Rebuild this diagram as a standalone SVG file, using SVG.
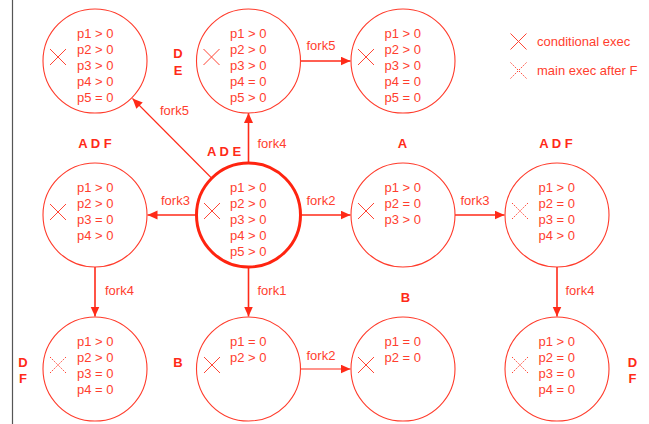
<svg xmlns="http://www.w3.org/2000/svg" width="649" height="424" viewBox="0 0 649 424">
  <style>
    .node { fill: #ffffff; stroke: #ff3b2b; stroke-width: 1.1; }
    .main { fill: #ffffff; stroke: #ff2410; stroke-width: 3; }
    .txt { font-family: "Liberation Sans", Arial, sans-serif; font-size: 13px; fill: #ff3e2e; }
    .lbl { font-family: "Liberation Sans", Arial, sans-serif; font-size: 13px; font-weight: bold; fill: #ff2a18; text-anchor: middle; }
    .xd { stroke-dasharray: 1.6 1.4; }
    .edge { stroke: #ff2a18; stroke-width: 1.6; fill: none; marker-end: url(#arrow); }
    .edge-thin { stroke: #ff2a18; stroke-width: 1.1; fill: none; marker-end: url(#arrow); }
  </style>
  <defs>
    <marker id="arrow" markerUnits="userSpaceOnUse" markerWidth="11" markerHeight="10" refX="10" refY="4.5" orient="auto">
      <path d="M0,0 L10,4.5 L0,9 z" fill="#ff2a18"/>
    </marker>
  </defs>

  <rect width="649" height="424" fill="#ffffff"/>
  <line x1="12.5" y1="0" x2="12.5" y2="424" stroke="#555555" stroke-width="1.2"/>

  <!-- connectors -->
  <g id="connectors">
    <line class="edge-thin" x1="211.5" y1="178" x2="132.5" y2="98.5"/>
    <text class="txt" x="160" y="115">fork5</text>
    <line class="edge" x1="248.5" y1="163" x2="248.5" y2="113"/>
    <text class="txt" x="257.5" y="148">fork4</text>
    <line class="edge" x1="300.5" y1="61" x2="350.5" y2="61"/>
    <text class="txt" x="306.5" y="50">fork5</text>
    <line class="edge" x1="196.5" y1="215" x2="147.5" y2="215"/>
    <text class="txt" x="161" y="205">fork3</text>
    <line class="edge" x1="300.5" y1="215" x2="350.5" y2="215"/>
    <text class="txt" x="306.5" y="205">fork2</text>
    <line class="edge" x1="455" y1="215" x2="504.5" y2="215"/>
    <text class="txt" x="460.5" y="205">fork3</text>
    <line class="edge" x1="95" y1="267" x2="95" y2="316.5"/>
    <text class="txt" x="105" y="295">fork4</text>
    <line class="edge" x1="248.5" y1="267" x2="248.5" y2="316.5"/>
    <text class="txt" x="257.5" y="295">fork1</text>
    <line class="edge-thin" x1="300.5" y1="369" x2="350.5" y2="369"/>
    <text class="txt" x="306.5" y="360">fork2</text>
    <line class="edge" x1="557" y1="267" x2="557" y2="316.5"/>
    <text class="txt" x="565.5" y="295">fork4</text>
  </g>

  <!-- states; each X mark is drawn with its own stroke colour -->
  <g id="state-top-left">
    <circle class="node" cx="95" cy="61" r="52"/>
    <path d="M50,49 L66,65 M50,65 L66,49" stroke="#ff4535" stroke-width="1" fill="none"/>
    <text class="txt" x="77" y="37.5">p1 &gt; 0</text>
    <text class="txt" x="77" y="53.5">p2 &gt; 0</text>
    <text class="txt" x="77" y="69.5">p3 &gt; 0</text>
    <text class="txt" x="77" y="85.5">p4 &gt; 0</text>
    <text class="txt" x="77" y="101.5">p5 = 0</text>
  </g>

  <g id="state-top-mid">
    <circle class="node" cx="248.5" cy="61" r="52"/>
    <path d="M203.5,49 L219.5,65 M203.5,65 L219.5,49" stroke="#ff4535" stroke-width="1" fill="none"/>
    <text class="txt" x="230" y="37.5">p1 &gt; 0</text>
    <text class="txt" x="230" y="53.5">p2 &gt; 0</text>
    <text class="txt" x="230" y="69.5">p3 &gt; 0</text>
    <text class="txt" x="230" y="85.5">p4 = 0</text>
    <text class="txt" x="230" y="101.5">p5 &gt; 0</text>
    <text class="lbl" x="178" y="58">D</text>
    <text class="lbl" x="178" y="75">E</text>
  </g>

  <g id="state-top-right">
    <circle class="node" cx="403" cy="61" r="52"/>
    <path d="M358,49 L374,65 M358,65 L374,49" stroke="#ff4535" stroke-width="1" fill="none"/>
    <text class="txt" x="384.5" y="37.5">p1 &gt; 0</text>
    <text class="txt" x="384.5" y="53.5">p2 &gt; 0</text>
    <text class="txt" x="384.5" y="69.5">p3 &gt; 0</text>
    <text class="txt" x="384.5" y="85.5">p4 = 0</text>
    <text class="txt" x="384.5" y="101.5">p5 = 0</text>
  </g>

  <g id="state-mid-left">
    <circle class="node" cx="95" cy="215" r="52"/>
    <path d="M50,204 L66,220 M50,220 L66,204" stroke="#ff4535" stroke-width="1" fill="none"/>
    <text class="txt" x="77" y="191.5">p1 &gt; 0</text>
    <text class="txt" x="77" y="207.5">p2 &gt; 0</text>
    <text class="txt" x="77" y="223.5">p3 = 0</text>
    <text class="txt" x="77" y="239.5">p4 &gt; 0</text>
    <text class="lbl" x="95" y="148">A D F</text>
  </g>

  <g id="state-start">
    <circle class="main" cx="248.5" cy="215" r="52"/>
    <path d="M204,203 L220,219 M204,219 L220,203" stroke="#ff4535" stroke-width="1" fill="none"/>
    <text class="txt" x="230" y="191.5">p1 &gt; 0</text>
    <text class="txt" x="230" y="207.5">p2 &gt; 0</text>
    <text class="txt" x="230" y="223.5">p3 &gt; 0</text>
    <text class="txt" x="230" y="239.5">p4 &gt; 0</text>
    <text class="txt" x="230" y="255.5">p5 &gt; 0</text>
    <text class="lbl" x="224" y="156">A D E</text>
  </g>

  <g id="state-mid-a">
    <circle class="node" cx="403" cy="215" r="52"/>
    <path d="M358,203 L374,219 M358,219 L374,203" stroke="#ff4535" stroke-width="1" fill="none"/>
    <text class="txt" x="384.5" y="191.5">p1 &gt; 0</text>
    <text class="txt" x="384.5" y="207.5">p2 = 0</text>
    <text class="txt" x="384.5" y="223.5">p3 &gt; 0</text>
    <text class="lbl" x="402.5" y="148">A</text>
  </g>

  <g id="state-mid-right">
    <circle class="node" cx="557" cy="215" r="52"/>
    <path class="xd" d="M512,203 L528,219 M512,219 L528,203" stroke="#ff4535" stroke-width="1" fill="none"/>
    <text class="txt" x="538.5" y="191.5">p1 &gt; 0</text>
    <text class="txt" x="538.5" y="207.5">p2 = 0</text>
    <text class="txt" x="538.5" y="223.5">p3 = 0</text>
    <text class="txt" x="538.5" y="239.5">p4 &gt; 0</text>
    <text class="lbl" x="556" y="148">A D F</text>
  </g>

  <g id="state-bottom-left">
    <circle class="node" cx="95" cy="369" r="52"/>
    <path class="xd" d="M50,357 L66,373 M50,373 L66,357" stroke="#ff4535" stroke-width="1" fill="none"/>
    <text class="txt" x="77" y="345.5">p1 &gt; 0</text>
    <text class="txt" x="77" y="361.5">p2 &gt; 0</text>
    <text class="txt" x="77" y="377.5">p3 = 0</text>
    <text class="txt" x="77" y="393.5">p4 = 0</text>
    <text class="lbl" x="23" y="367">D</text>
    <text class="lbl" x="23" y="383">F</text>
  </g>

  <g id="state-bottom-b1">
    <circle class="node" cx="248.5" cy="369" r="52"/>
    <path d="M204,357 L220,373 M204,373 L220,357" stroke="#ff4535" stroke-width="1" fill="none"/>
    <text class="txt" x="230" y="345.5">p1 = 0</text>
    <text class="txt" x="230" y="361.5">p2 &gt; 0</text>
    <text class="lbl" x="178" y="367">B</text>
  </g>

  <g id="state-bottom-b2">
    <circle class="node" cx="403" cy="369" r="52"/>
    <path d="M358,357 L374,373 M358,373 L374,357" stroke="#ff4535" stroke-width="1" fill="none"/>
    <text class="txt" x="384.5" y="345.5">p1 = 0</text>
    <text class="txt" x="384.5" y="361.5">p2 = 0</text>
    <text class="lbl" x="405.5" y="302">B</text>
  </g>

  <g id="state-bottom-right">
    <circle class="node" cx="557" cy="369" r="52"/>
    <path class="xd" d="M512,357 L528,373 M512,373 L528,357" stroke="#ff4535" stroke-width="1" fill="none"/>
    <text class="txt" x="538.5" y="345.5">p1 &gt; 0</text>
    <text class="txt" x="538.5" y="361.5">p2 = 0</text>
    <text class="txt" x="538.5" y="377.5">p3 = 0</text>
    <text class="txt" x="538.5" y="393.5">p4 = 0</text>
    <text class="lbl" x="632.5" y="367">D</text>
    <text class="lbl" x="632.5" y="383">F</text>
  </g>

  <!-- key -->
  <g id="legend">
    <path d="M510.5,33.5 L526.5,49.5 M510.5,49.5 L526.5,33.5" stroke="#ff4535" stroke-width="1" fill="none"/>
    <text class="txt" x="537" y="45.5" font-size="12.5">conditional exec</text>
    <path class="xd" d="M510.5,62.5 L526.5,78.5 M510.5,78.5 L526.5,62.5" stroke="#ff4535" stroke-width="1" fill="none"/>
    <text class="txt" x="537" y="75" font-size="12.5">main exec after F</text>
  </g>
</svg>
